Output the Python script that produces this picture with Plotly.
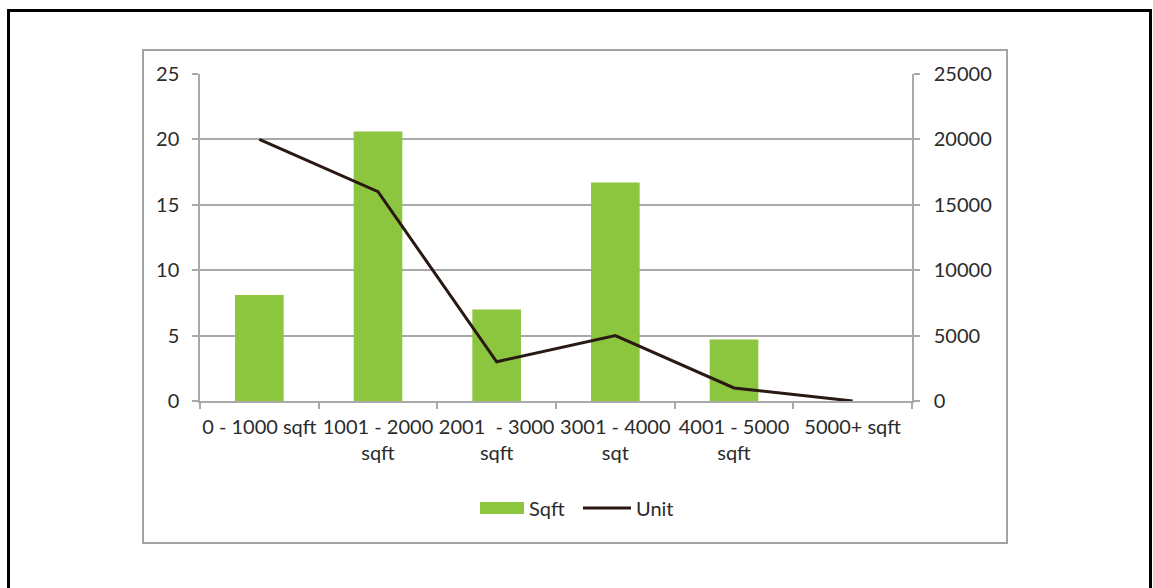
import plotly.graph_objects as go

# Size bands and their values
categories = [
    "0 - 1000 sqft",
    "1001 - 2000<br>sqft",
    "2001 \u00a0- 3000<br>sqft",
    "3001 - 4000<br>sqt",
    "4001 - 5000<br>sqft",
    "5000+ sqft",
]
sqft_values = [8.1, 20.6, 7.0, 16.7, 4.7, 0]
unit_values = [20000, 16000, 3000, 5000, 1000, 0]

left_ticks = [0, 5, 10, 15, 20, 25]
right_ticks = [0, 5000, 10000, 15000, 20000, 25000]
right_tick_text = [str(v) for v in right_ticks]

BAR_GREEN = "#8cc63e"
LINE_DARK = "#2a1812"
GRID = "#a9a9a9"
TEXT = "#2b2b2b"
FONT = "Lato"
FS = 20

W, H = 1153, 588
L, R, T, B = 200, 241, 74, 187
PW, PH = W - L - R, H - T - B


def px(x):
    return (x - L) / PW


def py(y):
    return (H - B - y) / PH


fig = go.Figure()
fig.add_trace(go.Bar(
    x=categories, y=sqft_values, name="Sqft",
    marker=dict(color=BAR_GREEN, line=dict(width=0)),
    width=0.41, yaxis="y", showlegend=False,
))
fig.add_trace(go.Scatter(
    x=categories, y=unit_values, name="Unit", mode="lines",
    line=dict(color=LINE_DARK, width=3), yaxis="y2", showlegend=False,
))

axis_common = dict(
    showline=True, linecolor=GRID, linewidth=1.5,
    ticks="outside", ticklen=6, tickcolor=GRID, tickwidth=1.5,
    tickfont=dict(family=FONT, size=FS, color=TEXT),
    zeroline=False,
)

fig.update_layout(
    width=W, height=H,
    margin=dict(l=L, r=R, t=T, b=B, pad=0),
    paper_bgcolor="white", plot_bgcolor="white",
    showlegend=False,
    xaxis=dict(
        **axis_common,
        type="category", range=[-0.5, 5.5],
        tickson="boundaries", showgrid=False,
        tickangle=0, ticklabelstandoff=7,
    ),
    yaxis=dict(
        **axis_common,
        range=[0, 25], tickvals=left_ticks,
        showgrid=True, gridcolor=GRID, gridwidth=1.5,
        ticklabelstandoff=9,
    ),
    yaxis2=dict(
        **axis_common,
        overlaying="y", side="right",
        range=[0, 25000], tickvals=right_ticks, ticktext=right_tick_text,
        showgrid=False, ticklabelstandoff=10,
    ),
    shapes=[
        # outer frame
        dict(type="rect", xref="paper", yref="paper",
             x0=px(8.5), x1=px(1150.5), y0=py(620), y1=py(10.5),
             line=dict(color="black", width=3), layer="above"),
        # chart area frame
        dict(type="rect", xref="paper", yref="paper",
             x0=px(143), x1=px(1007), y0=py(543), y1=py(50),
             line=dict(color="#a3a3a3", width=2), layer="below"),
        # legend swatches
        dict(type="rect", xref="paper", yref="paper",
             x0=px(480), x1=px(524), y0=py(514), y1=py(502),
             fillcolor=BAR_GREEN, line=dict(width=0)),
        dict(type="line", xref="paper", yref="paper",
             x0=px(583), x1=px(631), y0=py(508), y1=py(508),
             line=dict(color=LINE_DARK, width=3)),
    ],
    annotations=[
        dict(text="Sqft", xref="paper", yref="paper",
             x=px(527), y=py(508), xanchor="left", yanchor="middle",
             showarrow=False, font=dict(family=FONT, size=FS, color=TEXT)),
        dict(text="Unit", xref="paper", yref="paper",
             x=px(634), y=py(508), xanchor="left", yanchor="middle",
             showarrow=False, font=dict(family=FONT, size=FS, color=TEXT)),
    ],
)

fig.write_html("out.html")
